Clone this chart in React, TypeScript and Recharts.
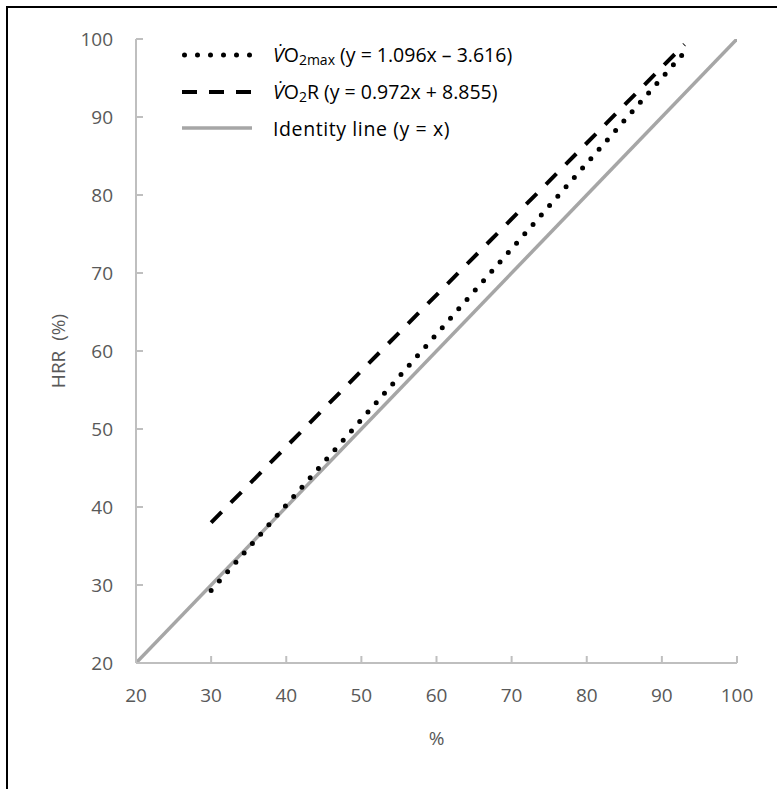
import React from 'react';
import { LineChart, Line, XAxis, YAxis, Legend } from 'recharts';

const xTicks = [20, 30, 40, 50, 60, 70, 80, 90, 100];
const yTicks = [20, 30, 40, 50, 60, 70, 80, 90, 100];

const vo2maxX = [30, 93];
const vo2maxY = [29.3, 98.3];
const vo2rX = [30, 93];
const vo2rY = [38.0, 99.3];
const identityX = [20, 100];
const identityY = [20, 100];

const toPoints = (xs: number[], ys: number[]) => xs.map((x, i) => ({ x, y: ys[i] }));

const vo2maxData = toPoints(vo2maxX, vo2maxY);
const vo2rData = toPoints(vo2rX, vo2rY);
const identityData = toPoints(identityX, identityY);

const FONT = '"Open Sans", sans-serif';
const AXIS_COLOR = '#BFBFBF';
const TEXT_COLOR = '#595959';
const TICK_SIZE = 19;

const XTick = (props: any) => {
  const { x, y, payload } = props;
  return (
    <g>
      {payload.value !== 20 && (
        <line x1={x} x2={x} y1={y} y2={y - 7} stroke={AXIS_COLOR} strokeWidth={2} />
      )}
      <text x={x} y={y + 39} textAnchor="middle" fontFamily={FONT} fontSize={TICK_SIZE} fill={TEXT_COLOR}>
        {payload.value}
      </text>
    </g>
  );
};

const YTick = (props: any) => {
  const { x, y, payload } = props;
  return (
    <g>
      {payload.value !== 20 && (
        <line x1={x} x2={x + 7} y1={y} y2={y} stroke={AXIS_COLOR} strokeWidth={2} />
      )}
      <text x={x - 23} y={y + 6.5} textAnchor="end" fontFamily={FONT} fontSize={TICK_SIZE} fill={TEXT_COLOR}>
        {payload.value}
      </text>
    </g>
  );
};

const VDot = () => <i>V&#775;</i>;

const legendItems = [
  {
    key: 'vo2max',
    sample: { stroke: '#000', dash: '0 13', width: 5, cap: 'round' as const },
    label: (
      <span>
        <VDot />O<sub style={{ fontSize: 14, verticalAlign: '-3px' }}>2max</sub> (y = 1.096x – 3.616)
      </span>
    ),
  },
  {
    key: 'vo2r',
    sample: { stroke: '#000', dash: '15 12', width: 4, cap: 'butt' as const },
    label: (
      <span>
        <VDot />O<sub style={{ fontSize: 14, verticalAlign: '-3px' }}>2</sub>R (y = 0.972x + 8.855)
      </span>
    ),
  },
  {
    key: 'identity',
    sample: { stroke: '#A6A6A6', dash: undefined, width: 3.5, cap: 'butt' as const },
    label: <span style={{ letterSpacing: 0.6 }}>Identity line (y = x)</span>,
  },
];

const renderLegend = () => (
  <div style={{ fontFamily: FONT, fontSize: 19.5, color: '#000', textAlign: 'left' }}>
    {legendItems.map((it) => (
      <div key={it.key} style={{ display: 'flex', alignItems: 'center', height: 36.5, whiteSpace: 'nowrap' }}>
        <svg width={91} height={10} style={{ display: 'block', flex: 'none' }}>
          <line
            x1={it.sample.cap === 'round' ? 2.5 : 0}
            x2={70}
            y1={5}
            y2={5}
            stroke={it.sample.stroke}
            strokeWidth={it.sample.width}
            strokeDasharray={it.sample.dash}
            strokeLinecap={it.sample.cap}
          />
        </svg>
        {it.label}
      </div>
    ))}
  </div>
);

export default function App() {
  return (
    <div
      style={{
        position: 'absolute',
        left: 6,
        top: 6,
        width: 771,
        height: 783,
        boxSizing: 'border-box',
        borderLeft: '2px solid #000000',
        borderTop: '2px solid #000000',
        background: '#ffffff',
      }}
    >
      <LineChart
        width={769}
        height={781}
        margin={{ top: 31, right: 40, bottom: 36, left: 38 }}
      >
        <XAxis
          type="number"
          dataKey="x"
          domain={[20, 100]}
          ticks={xTicks}
          allowDataOverflow
          height={90}
          axisLine={{ stroke: AXIS_COLOR, strokeWidth: 2 }}
          tickLine={false}
          tickSize={0}
          tickMargin={0}
          tick={<XTick />}
          interval={0}
          label={{
            content: (p: any) => {
              const vb = p.viewBox;
              return (
                <text
                  x={vb.x + vb.width / 2}
                  y={vb.y + 82}
                  textAnchor="middle"
                  fontFamily={FONT}
                  fontSize={TICK_SIZE}
                  fill={TEXT_COLOR}
                >
                  %
                </text>
              );
            },
          }}
        />
        <YAxis
          type="number"
          dataKey="y"
          domain={[20, 100]}
          ticks={yTicks}
          allowDataOverflow
          width={90}
          axisLine={{ stroke: AXIS_COLOR, strokeWidth: 2 }}
          tickLine={false}
          tickSize={0}
          tickMargin={0}
          tick={<YTick />}
          interval={0}
          label={{
            content: (p: any) => {
              const vb = p.viewBox;
              const cx = 50;
              const cy = vb.y + vb.height / 2;
              return (
                <text
                  x={cx}
                  y={cy}
                  textAnchor="middle"
                  dominantBaseline="central"
                  transform={`rotate(-90 ${cx} ${cy})`}
                  fontFamily={FONT}
                  fontSize={TICK_SIZE}
                  fill={TEXT_COLOR}
                  style={{ whiteSpace: 'pre' }}
                >
                  {'HRR  (%)'}
                </text>
              );
            },
          }}
        />
        <Legend
          content={renderLegend}
          layout="horizontal"
          verticalAlign="middle"
          align="center"
          wrapperStyle={{ top: 29, left: 174, width: 'auto' }}
        />
        <Line
          data={identityData}
          dataKey="y"
          name="Identity line (y = x)"
          stroke="#A6A6A6"
          strokeWidth={3.5}
          dot={false}
          activeDot={false}
          isAnimationActive={false}
        />
        <Line
          data={vo2rData}
          dataKey="y"
          name="VO2R"
          stroke="#000"
          strokeWidth={4}
          strokeDasharray="15 13"
          dot={false}
          activeDot={false}
          isAnimationActive={false}
        />
        <Line
          data={vo2maxData}
          dataKey="y"
          name="VO2max"
          stroke="#000"
          strokeWidth={5}
          strokeDasharray="0 12.5"
          strokeLinecap="round"
          dot={false}
          activeDot={false}
          isAnimationActive={false}
        />
      </LineChart>
    </div>
  );
}
